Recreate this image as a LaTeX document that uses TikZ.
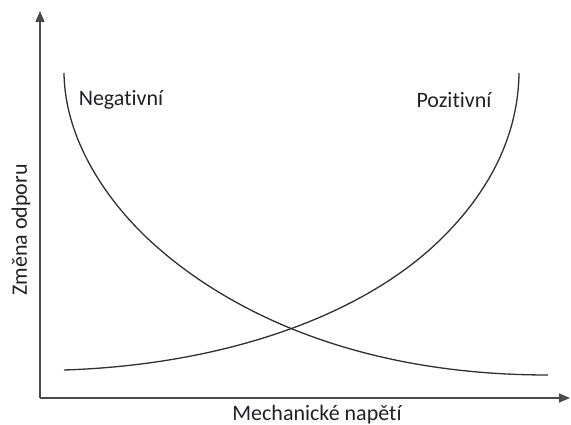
\documentclass[tikz,border=0pt]{standalone}
\usepackage{fontspec}
\setmainfont{Carlito}[Ligatures=NoCommon]
\usetikzlibrary{arrows.meta}
\definecolor{axisgray}{HTML}{4A4A4A}
\definecolor{curvegray}{HTML}{303030}
\definecolor{txt}{HTML}{202028}
\begin{document}
\begin{tikzpicture}[x=1pt,y=-1pt,
  axis/.style={draw=axisgray,line width=1.6pt,-{Triangle[length=11pt,width=9pt]}},
  curve/.style={draw=curvegray,line width=1.3pt},
  lbl/.style={text=txt,font=\fontsize{22}{26}\selectfont,inner sep=0pt}]
\useasboundingbox (0,0) rectangle (571,425);
\coordinate (O) at (40,398);
\coordinate (ytip) at (40,11);
\coordinate (xtip) at (570,398);
\draw[axis] (O) -- (ytip);
\draw[axis] (O) -- (xtip);
% negative curve
\coordinate (n0) at (64,73);
\coordinate (n1) at (157,247);
\coordinate (n2) at (548,375);
\draw[curve] (n0) .. controls (65,150) and (120,215) .. (n1)
  .. controls (217,300) and (340,375) .. (n2);
% positive curve
\coordinate (p0) at (64,370);
\coordinate (p1) at (440,240);
\coordinate (p2) at (519,73);
\draw[curve] (p0) .. controls (220,365) and (360,318) .. (p1)
  .. controls (475,206) and (518,150) .. (p2);
\node[lbl] (neg) at (121,100) {Negativní};
\node[lbl] (poz) at (454,100) {Pozitivní};
\node[lbl,rotate=90] (ylab) at (21,230) {Změna odporu};
\node[lbl,anchor=base] (xlab) at (317,420) {Mechanické napětí};
\end{tikzpicture}
\end{document}
